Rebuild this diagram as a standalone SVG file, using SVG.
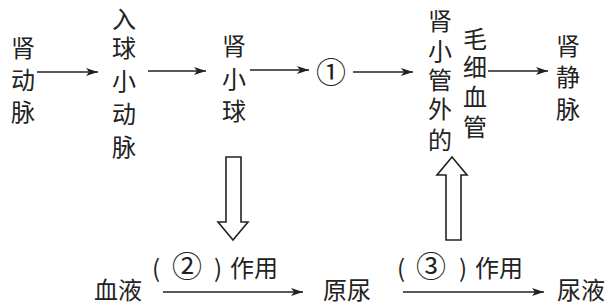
<svg xmlns="http://www.w3.org/2000/svg" width="611" height="307" viewBox="0 0 611 307">
<defs>
<style>
text{font-family:"Noto Sans CJK SC","Noto Sans",sans-serif;font-size:24px;fill:#222;text-anchor:middle}
.circ{font-size:30px}
.ln{stroke:#222;stroke-width:1.6;fill:none}
.hollow{stroke:#222;stroke-width:1.6;fill:#fff;stroke-linejoin:miter}
</style>
<marker id="ah" viewBox="0 0 12 8" refX="12" refY="4" markerWidth="12" markerHeight="8" markerUnits="userSpaceOnUse" orient="auto">
<path d="M0,0 L12,4 L0,8 L3,4 z" fill="#222"/>
</marker>
</defs>
<g id="n-shendongmai"><text><tspan x="23" y="57">肾</tspan><tspan x="23" y="89">动</tspan><tspan x="23" y="121">脉</tspan></text></g>
<g id="n-ruqiuxiaodongmai"><text><tspan x="124" y="28">入</tspan><tspan x="124" y="57">球</tspan><tspan x="124" y="90">小</tspan><tspan x="124" y="123">动</tspan><tspan x="124" y="156">脉</tspan></text></g>
<g id="n-shenxiaoqiu"><text><tspan x="234" y="55">肾</tspan><tspan x="234" y="88">小</tspan><tspan x="234" y="120">球</tspan></text></g>
<g id="n-1"><text class="circ" x="331" y="83">①</text></g>
<g id="n-shenxiaoguan"><text><tspan x="440" y="30">肾</tspan><tspan x="440" y="60">小</tspan><tspan x="440" y="89">管</tspan><tspan x="440" y="118">外</tspan><tspan x="440" y="149">的</tspan></text></g>
<g id="n-maoxixueguan"><text><tspan x="475" y="48">毛</tspan><tspan x="475" y="76">细</tspan><tspan x="475" y="106">血</tspan><tspan x="475" y="136">管</tspan></text></g>
<g id="n-shenjingmai"><text><tspan x="568" y="55">肾</tspan><tspan x="568" y="86">静</tspan><tspan x="568" y="118">脉</tspan></text></g>
<g id="n-xueye"><text x="118" y="299">血液</text></g>
<g id="n-yuanniao"><text x="347" y="299">原尿</text></g>
<g id="n-niaoye"><text x="581" y="299">尿液</text></g>
<g id="labels">
<text y="277"><tspan x="156">(</tspan><tspan class="circ" x="187">②</tspan><tspan x="218">)</tspan><tspan x="254">作用</tspan></text>
<text y="277"><tspan x="401">(</tspan><tspan class="circ" x="431">③</tspan><tspan x="463">)</tspan><tspan x="499">作用</tspan></text>
</g>
<g id="connectors">
<line class="ln" x1="37" y1="72" x2="98" y2="72" marker-end="url(#ah)"/>
<line class="ln" x1="148" y1="71" x2="206" y2="71" marker-end="url(#ah)"/>
<line class="ln" x1="250" y1="70" x2="309" y2="70" marker-end="url(#ah)"/>
<line class="ln" x1="353" y1="72" x2="413" y2="72" marker-end="url(#ah)"/>
<line class="ln" x1="488" y1="71" x2="548" y2="71" marker-end="url(#ah)"/>
<line class="ln" x1="163" y1="292" x2="303" y2="292" marker-end="url(#ah)"/>
<line class="ln" x1="403" y1="292" x2="544" y2="292" marker-end="url(#ah)"/>
<path class="hollow" d="M226,157 L241,157 L241,222 L248,222 L233,240 L218,222 L226,222 Z"/>
<path class="hollow" d="M452,157 L467,175 L461,175 L461,240 L446,240 L446,175 L437,175 Z"/>
</g>
</svg>
